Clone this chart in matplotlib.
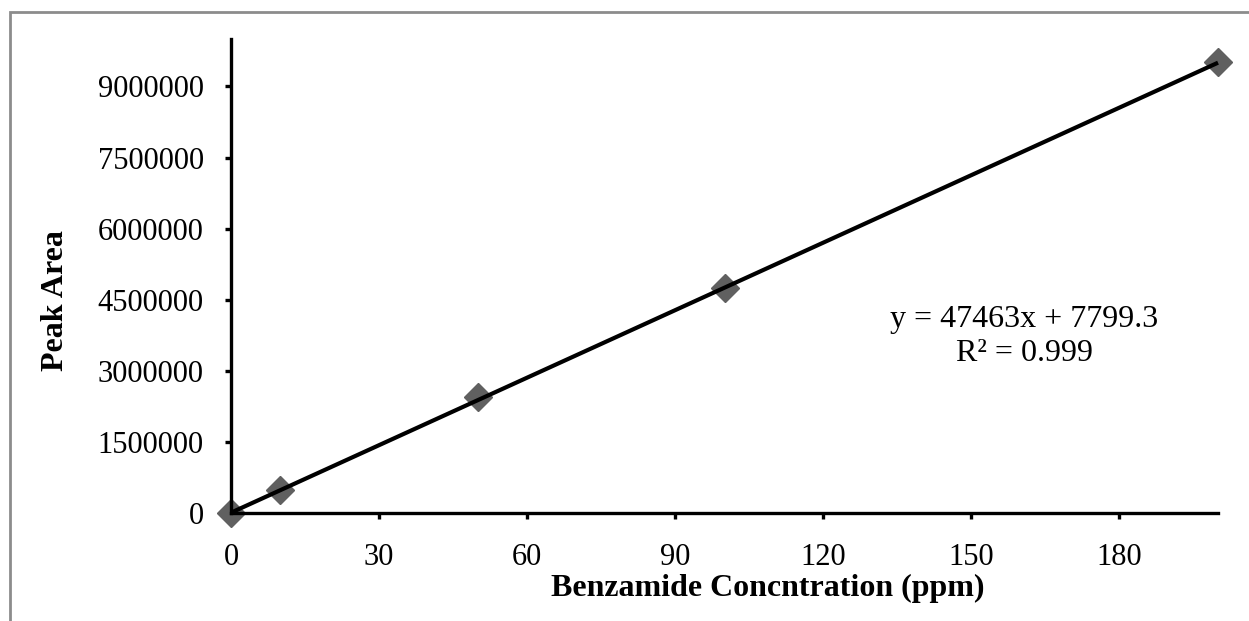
import numpy as np
import matplotlib
matplotlib.use('Agg')
import matplotlib.pyplot as plt
from matplotlib.patches import Rectangle

plt.rcParams['font.family'] = ['Liberation Serif', 'DejaVu Serif']

# Curva de calibração
concentracao = [0, 10, 50, 100, 200]
area_pico = [0, 482000, 2440000, 4740000, 9508000]

# Coeficientes da linha de tendência
inclinacao = 47463
intercepto = 7799.3
r2 = 0.999

x_ticks = [0, 30, 60, 90, 120, 150, 180]
y_ticks = [0, 1500000, 3000000, 4500000, 6000000, 7500000, 9000000]

fig = plt.figure(figsize=(12.49, 6.21), dpi=100)
ax = fig.add_axes([0.1850, 0.1739, 0.7902, 0.7633])

ax.plot(concentracao, area_pico, linestyle='none', marker='D', markersize=14,
        color='#606060', zorder=2, clip_on=False)

x_linha = np.array([0, 200])
ax.plot(x_linha, inclinacao * x_linha + intercepto, color='black', lw=3,
        zorder=3, solid_capstyle='butt', clip_on=False)

ax.set_xlim(0, 200)
ax.set_ylim(0, 10000000)
ax.set_xticks(x_ticks)
ax.set_yticks(y_ticks)
ax.set_yticklabels([str(v) for v in y_ticks])

for lado in ['top', 'right']:
    ax.spines[lado].set_visible(False)
for lado in ['left', 'bottom']:
    ax.spines[lado].set_linewidth(2.4)
ax.tick_params(direction='out', length=4.5, width=2.4, labelsize=22)
ax.tick_params(axis='y', pad=15)
ax.tick_params(axis='x', pad=17)

ax.set_xlabel('Benzamide Concntration (ppm)', fontsize=23, fontweight='bold')
ax.xaxis.set_label_coords(0.544, -0.128)
ax.set_ylabel('Peak Area', fontsize=23, fontweight='bold')
ax.yaxis.set_label_coords(-0.163, 0.449)

ax.text(160.8, 3720000, f'y = {inclinacao}x + {intercepto}\nR² = {r2}',
        fontsize=23, ha='center', va='center', linespacing=1.2)

# Moldura do gráfico
fig.patches.append(Rectangle((10 / 1249, -0.05), 1.2, 1 - 12 / 621 + 0.05,
                             transform=fig.transFigure, fill=False,
                             edgecolor='#8c8c8c', lw=2))

fig.savefig('out.png', dpi=100)
